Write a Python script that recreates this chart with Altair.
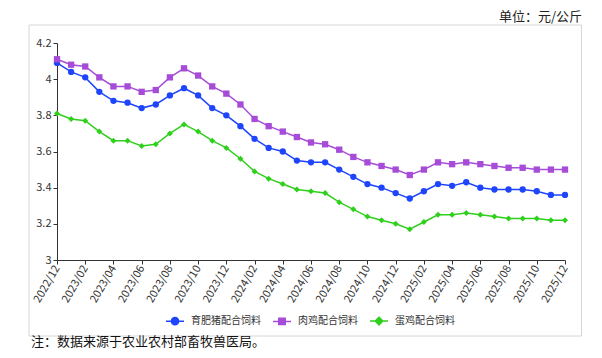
import altair as alt
import pandas as pd

months = [
    "2022/12", "2023/01", "2023/02", "2023/03", "2023/04", "2023/05", "2023/06",
    "2023/07", "2023/08", "2023/09", "2023/10", "2023/11", "2023/12",
    "2024/01", "2024/02", "2024/03", "2024/04", "2024/05", "2024/06",
    "2024/07", "2024/08", "2024/09", "2024/10", "2024/11", "2024/12",
    "2025/01", "2025/02", "2025/03", "2025/04", "2025/05", "2025/06",
    "2025/07", "2025/08", "2025/09", "2025/10", "2025/11", "2025/12",
]
series_names = ["育肥猪配合饲料", "肉鸡配合饲料", "蛋鸡配合饲料"]
pig = [4.09, 4.04, 4.01, 3.93, 3.88, 3.87, 3.84, 3.86, 3.91, 3.95, 3.91, 3.84, 3.80,
       3.74, 3.67, 3.62, 3.60, 3.55, 3.54, 3.54, 3.50, 3.46, 3.42, 3.40, 3.37,
       3.34, 3.38, 3.42, 3.41, 3.43, 3.40, 3.39, 3.39, 3.39, 3.38, 3.36, 3.36]
broiler = [4.11, 4.08, 4.07, 4.01, 3.96, 3.96, 3.93, 3.94, 4.01, 4.06, 4.02, 3.96, 3.92,
           3.86, 3.78, 3.74, 3.71, 3.68, 3.65, 3.64, 3.61, 3.57, 3.54, 3.52, 3.50,
           3.47, 3.50, 3.54, 3.53, 3.54, 3.53, 3.52, 3.51, 3.51, 3.50, 3.50, 3.50]
layer_hen = [3.81, 3.78, 3.77, 3.71, 3.66, 3.66, 3.63, 3.64, 3.70, 3.75, 3.71, 3.66, 3.62,
             3.56, 3.49, 3.45, 3.42, 3.39, 3.38, 3.37, 3.32, 3.28, 3.24, 3.22, 3.20,
             3.17, 3.21, 3.25, 3.25, 3.26, 3.25, 3.24, 3.23, 3.23, 3.23, 3.22, 3.22]
y_ticks = [3, 3.2, 3.4, 3.6, 3.8, 4, 4.2]
colors = ["#1f45fc", "#a64cd8", "#2fd01c"]
marker_shapes = ["circle", "square", "diamond"]
marker_sizes = [40, 40, 36]
legend_shapes = [
    "M-1,0H1M0.4,0A0.4,0.4 0 1 1 -0.4,0A0.4,0.4 0 1 1 0.4,0Z",
    "M-1,0H1M-0.36,-0.36H0.36V0.36H-0.36Z",
    "M-1,0H1M0,-0.42L0.42,0L0,0.42L-0.42,0Z",
]
unit_text = "单位：元/公斤"
note_text = "注：数据来源于农业农村部畜牧兽医局。"

rows = []
for name, vals in zip(series_names, [pig, broiler, layer_hen]):
    for m, v in zip(months, vals):
        rows.append({"month": m, "series": name, "value": v})
df = pd.DataFrame(rows)

font = "Noto Sans CJK SC"

legend = alt.Legend(
    title=None,
    orient="none",
    direction="horizontal",
    legendX=108,
    legendY=268,
    labelFont=font,
    labelFontSize=10,
    labelColor="#333333",
    symbolSize=324,
    symbolStrokeWidth=1.5,
    symbolOpacity=1,
    labelOffset=6,
    columnPadding=9,
)

x_enc = alt.X(
    "month:O",
    sort=months,
    scale=alt.Scale(type="point", padding=0),
    axis=alt.Axis(
        values=months[::2],
        labelAngle=300,
        title=None,
        labelFont=font,
        labelFontSize=11,
        labelColor="#333333",
        domainColor="#333333",
        tickColor="#333333",
        tickSize=4,
        grid=False,
        labelPadding=2,
    ),
)
y_enc = alt.Y(
    "value:Q",
    scale=alt.Scale(domain=[3, 4.2], nice=False, zero=False),
    axis=alt.Axis(
        values=y_ticks,
        format="~g",
        title=None,
        labelFont=font,
        labelFontSize=11,
        labelColor="#333333",
        domainColor="#333333",
        tickColor="#333333",
        tickSize=4,
        grid=False,
    ),
)

base = alt.Chart(df)

series_layers = []
for name, col, shp, sz in zip(series_names, colors, marker_shapes, marker_sizes):
    sub = base.transform_filter(alt.datum.series == name)
    series_layers.append(sub.mark_line(strokeWidth=1.5, color=col).encode(x=x_enc, y=y_enc))
    series_layers.append(
        sub.mark_point(filled=True, shape=shp, size=sz, opacity=1, color=col).encode(x=x_enc, y=y_enc)
    )

legend_layer = (
    base.transform_filter("false")
    .mark_point(filled=True, opacity=1, strokeWidth=1.5)
    .encode(
        x=x_enc,
        y=y_enc,
        fill=alt.Fill("series:N", scale=alt.Scale(domain=series_names, range=colors), legend=legend),
        stroke=alt.Stroke("series:N", scale=alt.Scale(domain=series_names, range=colors), legend=legend),
        shape=alt.Shape("series:N", scale=alt.Scale(domain=series_names, range=legend_shapes), legend=legend),
    )
)

one = pd.DataFrame({"k": [0]})
frame = alt.Chart(one).mark_rect(fill="transparent", stroke="#d6d6d6", strokeWidth=1).encode(
    x=alt.value(-28), x2=alt.value(524.5), y=alt.value(-18), y2=alt.value(293)
)
unit = alt.Chart(one).mark_text(
    align="right", baseline="middle", font=font, fontSize=13, color="#222222"
).encode(x=alt.value(525), y=alt.value(-26), text=alt.value(unit_text))
note = alt.Chart(one).mark_text(
    align="left", baseline="middle", font=font, fontSize=13, color="#111111"
).encode(x=alt.value(-26), y=alt.value(299), text=alt.value(note_text))

chart = (
    alt.layer(frame, *series_layers, legend_layer, unit, note)
    .properties(
        width=508,
        height=217,
        autosize=alt.AutoSizeParams(type="none"),
        padding={"left": 49, "top": 35, "right": 29, "bottom": 90},
        background="white",
    )
    .configure_view(stroke=None)
)

chart.save("out.html", embed_options={"renderer": "svg", "actions": False})
